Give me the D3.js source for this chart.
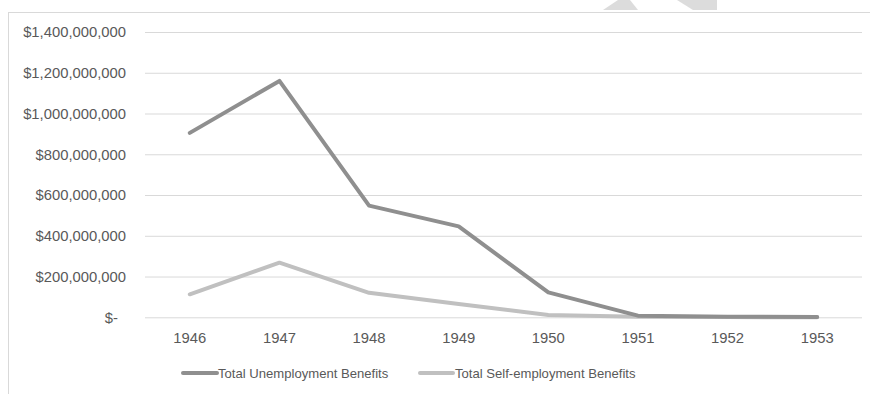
<!DOCTYPE html>
<html>
<head>
<meta charset="utf-8">
<script src="https://cdn.jsdelivr.net/npm/d3@7"></script>
<style>
  html, body { margin: 0; padding: 0; background: #fff; }
  svg { display: block; }
  text { font-family: "Liberation Sans", Arial, sans-serif; fill: #595959; }
</style>
</head>
<body>
<svg id="chart" width="870" height="394"></svg>
<script>
const years = ["1946", "1947", "1948", "1949", "1950", "1951", "1952", "1953"];
const unemployment = [905000000, 1160000000, 548000000, 446000000, 122000000, 8000000, 3000000, 1000000];
const selfEmployment = [113000000, 268000000, 120000000, 65000000, 11000000, 3000000, 1000000, 500000];
const yTicks = [0, 200000000, 400000000, 600000000, 800000000, 1000000000, 1200000000, 1400000000];
const seriesNames = ["Total Unemployment Benefits", "Total Self-employment Benefits"];
const seriesColors = ["#8f8f8f", "#c0c0c0"];

const svg = d3.select("#chart");
const W = 870, H = 394;
const plot = { left: 145, right: 862, top: 32, bottom: 317.3 };

// watermark-like faint shapes at top
svg.append("polygon").attr("points", "603,10 618,0 630,0 638,10").attr("fill", "#dcdcdc");
svg.append("polygon").attr("points", "677,0 717,0 717,10 693,10").attr("fill", "#dcdcdc");

// chart border
svg.append("rect").attr("x", 8.5).attr("y", 12.5).attr("width", W + 10).attr("height", H + 10)
  .attr("fill", "none").attr("stroke", "#d9d9d9").attr("stroke-width", 1);

const x = d3.scaleBand().domain(years).range([plot.left, plot.right]);
const y = d3.scaleLinear().domain([0, 1400000000]).range([plot.bottom, plot.top]);

const fmt = v => v === 0 ? "$-" : "$" + d3.format(",")(v);

// gridlines + y labels via axis
const yAxis = d3.axisLeft(y).tickValues(yTicks).tickFormat(fmt)
  .tickSize(-(plot.right - plot.left)).tickPadding(19);
const gy = svg.append("g").attr("transform", `translate(${plot.left},0)`).call(yAxis);
gy.select(".domain").remove();
gy.selectAll(".tick line").attr("stroke", "#d9d9d9").attr("stroke-width", 1);
gy.selectAll(".tick text").attr("font-size", 14.8).attr("fill", "#595959")
  .attr("dx", d => d === 0 ? -8 : 0);

// x labels
const xAxis = d3.axisBottom(x).tickSize(0).tickPadding(15);
const gx = svg.append("g").attr("transform", `translate(0,${plot.bottom})`).call(xAxis);
gx.select(".domain").remove();
gx.selectAll(".tick text").attr("font-size", 14.8).attr("fill", "#595959");

const line = d3.line().x((d, i) => x(years[i]) + x.bandwidth() / 2).y(d => y(d));

[selfEmployment, unemployment].forEach((s, k) => {
  const idx = k === 0 ? 1 : 0;
  svg.append("path").datum(s).attr("d", line)
    .attr("fill", "none").attr("stroke", seriesColors[idx]).attr("stroke-width", 4)
    .attr("stroke-linejoin", "round").attr("stroke-linecap", "round");
});

// legend
const legendItems = [
  { x1: 183, x2: 217, tx: 218 },
  { x1: 420, x2: 453, tx: 455 }
];
legendItems.forEach((it, i) => {
  svg.append("line").attr("x1", it.x1).attr("x2", it.x2).attr("y1", 373).attr("y2", 373)
    .attr("stroke", seriesColors[i]).attr("stroke-width", 4).attr("stroke-linecap", "round");
  svg.append("text").attr("x", it.tx).attr("y", 378).attr("font-size", 13.1)
    .text(seriesNames[i]);
});
</script>
</body>
</html>
